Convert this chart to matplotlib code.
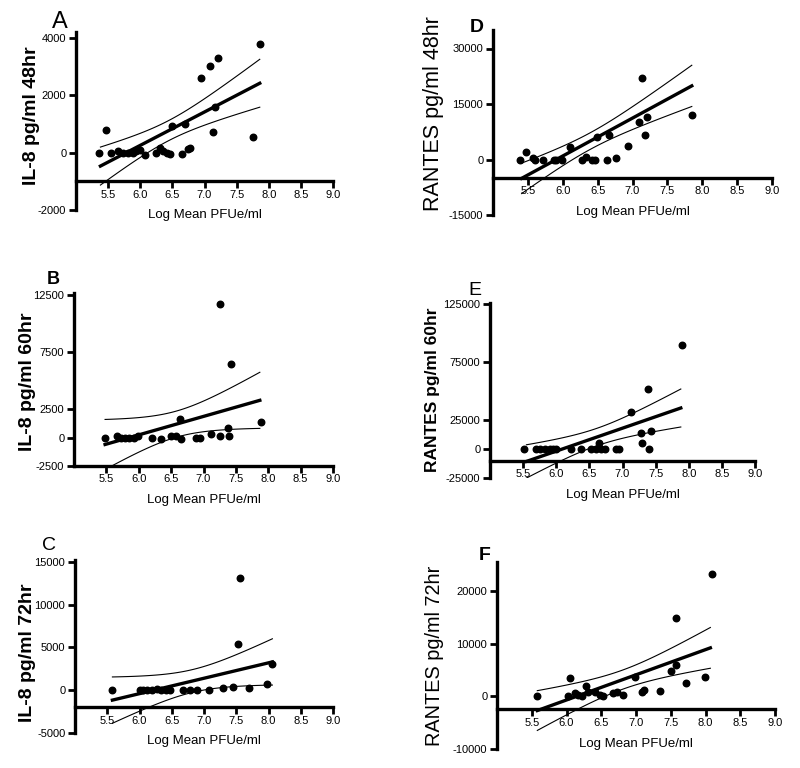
import numpy as np
import matplotlib
matplotlib.use('Agg')
import matplotlib.pyplot as plt

plt.rcParams['font.family'] = ['Liberation Sans', 'DejaVu Sans']

# data: log mean PFUe/ml vs cytokine pg/ml
a_x = [5.36, 5.47, 5.55, 5.66, 5.73, 5.81, 5.89, 5.94, 5.99, 6.08, 6.25, 6.30, 6.36, 6.41,
       6.47, 6.50, 6.65, 6.69, 6.74, 6.77, 6.94, 7.09, 7.13, 7.17, 7.21, 7.76, 7.86]
a_y = [0, 800, 0, 50, 0, 0, 0, 50, 100, -100, 0, 150, 50, 0,
       -50, 940, -50, 1000, 140, 160, 2590, 3000, 700, 1600, 3300, 530, 3770]

b_x = [5.48, 5.67, 5.72, 5.79, 5.85, 5.93, 5.99, 6.21, 6.34, 6.50, 6.57, 6.63, 6.65, 6.89,
       6.94, 7.12, 7.25, 7.25, 7.38, 7.40, 7.43, 7.89]
b_y = [0, 150, 0, -50, 0, 0, 150, 0, -100, 100, 100, 1620, -150, 0,
       0, 300, 11700, 150, 880, 150, 6470, 1380]

c_x = [5.57, 6.01, 6.06, 6.12, 6.19, 6.27, 6.34, 6.41, 6.48, 6.68, 6.78, 6.89, 7.07, 7.30,
       7.45, 7.52, 7.56, 7.69, 7.97, 8.06]
c_y = [0, 0, 0, 50, 0, 100, 0, 50, 0, 0, 50, 0, 0, 280,
       370, 5430, 13100, 280, 690, 3000]

d_x = [5.38, 5.47, 5.57, 5.60, 5.72, 5.87, 5.91, 5.99, 6.10, 6.27, 6.34, 6.42, 6.46, 6.49,
       6.64, 6.67, 6.76, 6.94, 7.10, 7.13, 7.18, 7.21, 7.85]
d_y = [0, 2000, 300, 0, 0, 0, 0, 0, 3400, 0, 700, 0, 0, 6100,
       0, 6700, 300, 3600, 10100, 22000, 6700, 11400, 11900]

e_x = [5.52, 5.70, 5.75, 5.83, 5.90, 5.95, 6.00, 6.23, 6.38, 6.53, 6.60, 6.65, 6.68, 6.73,
       6.90, 6.95, 7.13, 7.28, 7.30, 7.39, 7.40, 7.43, 7.90]
e_y = [0, 0, 0, 0, 0, 0, 0, 0, 0, 0, 0, 5000, 0, 0,
       0, 0, 32100, 13600, 5100, 52200, 0, 15900, 90000]

f_x = [5.57, 6.02, 6.05, 6.12, 6.16, 6.22, 6.28, 6.31, 6.41, 6.48, 6.52, 6.67, 6.72, 6.81,
       6.99, 7.08, 7.12, 7.35, 7.50, 7.57, 7.58, 7.72, 7.99, 8.09]
f_y = [0, 0, 3400, 600, 300, 0, 2000, 900, 750, 300, 0, 600, 750, 300,
       3600, 750, 1250, 1060, 4900, 5900, 14900, 2500, 3750, 23250]

# regression line as printed (x start, y start, x end, y end)
a_fit = (5.38, -470, 7.86, 2415)
b_fit = (5.48, -610, 7.87, 3270)
c_fit = (5.58, -1160, 8.06, 3300)
d_fit = (5.41, -5100, 7.85, 19900)
e_fit = (5.55, -10700, 7.88, 35400)
f_fit = (5.58, -2700, 8.07, 9200)

letters = ['A', 'B', 'C', 'D', 'E', 'F']
ylabels = ['IL-8 pg/ml 48hr', 'IL-8 pg/ml 60hr', 'IL-8 pg/ml 72hr',
           'RANTES pg/ml 48hr', 'RANTES pg/ml 60hr', 'RANTES pg/ml 72hr']
yticks = [[-2000, 0, 2000, 4000],
          [-2500, 0, 2500, 7500, 12500],
          [-5000, 0, 5000, 10000, 15000],
          [-15000, 0, 15000, 30000],
          [-25000, 0, 25000, 75000, 125000],
          [-10000, 0, 10000, 20000]]
xticks = [5.5, 6.0, 6.5, 7.0, 7.5, 8.0, 8.5, 9.0]
xlabel = 'Log Mean PFUe/ml'

W, H = 800, 768

# pixel boxes: left, right, bottom, top ; y limits ; x axis crossing
boxes = [(76, 333, 210, 32), (74, 333, 466, 293), (75, 333, 733, 560),
         (493, 772, 215, 30), (490, 755, 478, 303), (497, 775, 749, 562)]
ylims = [(-2000, 4200), (-2500, 12700), (-5000, 15200),
         (-15000, 35000), (-25000, 126000), (-10000, 25500)]
xcross = [-1000, -2500, -2000, -5000, -10000, -2500]
letter_pos = [(60, 22), (53, 280), (49, 545), (477, 28), (475, 290), (485, 556)]
ylab_pos = [(31, 116), (27, 382), (27, 653), (433, 114), (433, 390), (434, 656)]
ylab_style = [(14, 'bold'), (14, 'bold'), (14, 'bold'),
              (15.5, 'normal'), (12.5, 'bold'), (14.3, 'normal')]
letter_style = [(17, 'normal'), (13, 'bold'), (14, 'normal'),
                (14, 'bold'), (14, 'normal'), (14, 'bold')]


def fit_lines(x, y, fit):
    x = np.asarray(x, float)
    y = np.asarray(y, float)
    n = len(x)
    x0, y0, x1, y1 = fit
    slope = (y1 - y0) / (x1 - x0)
    icpt = y0 - slope * x0
    res = y - (slope * x + icpt)
    s = np.sqrt(np.sum(res ** 2) / (n - 2))
    sxx = np.sum((x - x.mean()) ** 2)
    xs = np.linspace(x0, x1, 100)
    ys = slope * xs + icpt
    band = 2.07 * s * np.sqrt(1.0 / n + (xs - x.mean()) ** 2 / sxx)
    return xs, ys, ys - band, ys + band


fig = plt.figure(figsize=(8, 7.68), dpi=100)

data = [(a_x, a_y, a_fit), (b_x, b_y, b_fit), (c_x, c_y, c_fit),
        (d_x, d_y, d_fit), (e_x, e_y, e_fit), (f_x, f_y, f_fit)]
for i, (x, y, fit) in enumerate(data):
    l, r, b, t = boxes[i]
    ax = fig.add_axes([l / W, 1 - b / H, (r - l) / W, (b - t) / H])
    ax.set_xlim(5.0, 9.0)
    ax.set_ylim(*ylims[i])

    xs, ys, lo, hi = fit_lines(x, y, fit)
    ax.plot(xs, ys, color='black', lw=2.4, zorder=3)
    ax.plot(xs, lo, color='black', lw=0.8, zorder=3)
    ax.plot(xs, hi, color='black', lw=0.8, zorder=3)
    ax.scatter(x, y, s=22, color='black', zorder=4)

    ax.spines['top'].set_visible(False)
    ax.spines['right'].set_visible(False)
    ax.spines['left'].set_linewidth(2.4)
    ax.spines['bottom'].set_linewidth(2.4)
    ax.spines['bottom'].set_position(('data', xcross[i]))

    ax.set_yticks(yticks[i])
    ax.set_yticklabels([str(v) for v in yticks[i]])
    ax.set_xticks(xticks)
    ax.set_xticklabels(['%.1f' % v for v in xticks])
    ax.tick_params(axis='both', direction='out', length=5, width=2, labelsize=8, pad=2)
    ax.tick_params(axis='x', pad=1)
    ax.set_xlabel(xlabel, fontsize=9.5, labelpad=7)
    ax.patch.set_visible(False)

    lx, ly = letter_pos[i]
    fig.text(lx / W, 1 - ly / H, letters[i], ha='center', va='center',
             fontsize=letter_style[i][0], fontweight=letter_style[i][1])
    px, py = ylab_pos[i]
    fig.text(px / W, 1 - py / H, ylabels[i], ha='center', va='center', rotation=90,
             fontsize=ylab_style[i][0], fontweight=ylab_style[i][1])

fig.savefig('out.png', dpi=100)
